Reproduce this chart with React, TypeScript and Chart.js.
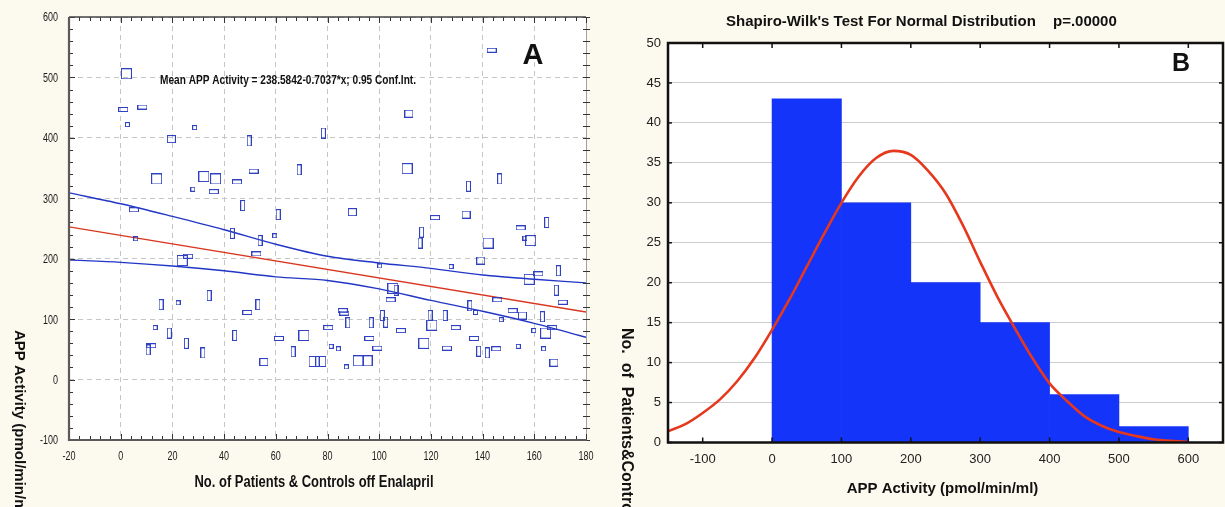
import { useEffect, useRef } from 'react';
import { Chart, registerables } from 'chart.js';

Chart.register(...registerables);

const FONT = '"Liberation Sans", Arial, sans-serif';

// ---------- Panel A: APP activity for each subject ----------
const subjectNo = [
  2.2, 1.0, 8.4, 2.6, 19.6, 28.6, 49.7, 78.4, 13.9, 32.2,
  36.7, 27.9, 36.0, 45.0, 51.4, 69.0, 47.2, 60.9, 5.1, 143.5,
  111.5, 110.8, 134.5, 146.6, 89.6, 121.6, 133.6, 154.7, 164.8, 116.4,
  115.8, 142.1, 158.6, 156.4, 139.3, 127.8, 100.2, 158.0, 161.6, 169.3,
  168.5, 171.0, 105.3, 106.5, 104.4, 145.7, 135.1, 137.3, 85.9, 86.5,
  101.2, 102.5, 119.7, 125.5, 87.9, 96.9, 120.4, 129.6, 147.2, 151.6,
  155.4, 163.1, 166.9, 159.8, 164.4, 80.3, 108.4, 96.2, 117.3, 136.7,
  81.4, 84.2, 99.3, 126.2, 138.5, 141.8, 145.3, 153.8, 163.6, 91.9,
  95.3, 87.3, 167.6, 43.2, 53.9, 59.6, 5.8, 23.8, 26.1, 52.5,
  34.2, 15.6, 22.2, 49.0, 53.1, 13.3, 18.8, 44.1, 61.2, 70.9,
  10.6, 11.8, 25.4, 31.8, 55.4, 66.7, 74.8, 77.4,
];
const appActivity = [
  506, 447, 451, 422, 398, 417, 395, 408, 332, 336,
  332, 315, 311, 327, 345, 347, 288, 273, 281, 545,
  440, 349, 320, 332, 277, 268, 273, 251, 260, 244,
  226, 226, 230, 234, 197, 187, 188, 166, 175, 180,
  148, 128, 151, 148, 132, 132, 122, 111, 114, 110,
  106, 95, 106, 106, 94, 94, 90, 86, 99, 114,
  106, 104, 86, 81, 77, 86, 81, 68, 60, 68,
  55, 51, 52, 52, 47, 44, 51, 55, 51, 31,
  31, 21, 28, 242, 230, 238, 233, 197, 204, 208,
  139, 124, 127, 111, 124, 86, 77, 73, 68, 73,
  49, 56, 60, 44, 29, 46, 30, 30,
];
// marker shape per subject: S large box, s box, t tall, w wide, d small
const markerKind = [
  'S', 'w', 'w', 'd', 's', 'd', 't', 't', 'S', 'S',
  'S', 'd', 'w', 'w', 'w', 't', 't', 't', 'w', 'w',
  's', 'S', 't', 't', 's', 'w', 's', 'w', 't', 't',
  't', 'S', 'S', 'd', 's', 'd', 'd', 'S', 'w', 't',
  't', 'w', 'S', 't', 'w', 'w', 't', 'd', 'w', 'w',
  't', 't', 't', 't', 't', 't', 'S', 'w', 'd', 'w',
  's', 't', 'w', 'd', 'S', 'w', 'w', 'w', 'S', 'w',
  'd', 'd', 'w', 'w', 't', 't', 'w', 'd', 'd', 'S',
  'S', 'd', 's', 't', 't', 'd', 'd', 'S', 'w', 'w',
  't', 't', 'd', 'w', 't', 'd', 't', 't', 'w', 'S',
  't', 'w', 't', 't', 's', 't', 'S', 'S',
];

const regressionIntercept = 238.5842;
const regressionSlope = -0.7037;
const subjectRange = [-20, 180];

const bandX = [-20, 0, 20, 40, 60, 80, 100, 120, 140, 160, 180];
const bandUpper = [309, 291, 270, 248, 224, 204, 193, 184, 173, 166, 160];
const bandLower = [198, 194, 188, 180, 170, 164, 150, 131, 113, 93, 70];

const xTicksA = [-20, 0, 20, 40, 60, 80, 100, 120, 140, 160, 180];
const yTicksA = [-100, 0, 100, 200, 300, 400, 500, 600];

// ---------- Panel B: distribution of APP activity ----------
const binCenters = [50, 150, 250, 350, 450, 550];
const binCounts = [43, 30, 20, 15, 6, 2];
const normalX = [
  -150, -125, -100, -75, -50, -25, 0, 25, 50, 75, 100, 125, 150, 175, 200, 225,
  250, 275, 300, 325, 350, 375, 400, 425, 450, 475, 500, 525, 550, 575, 600,
];
const normalY = [
  1.4, 2.3, 3.7, 5.4, 7.7, 10.6, 14.1, 17.9, 22.0, 26.1, 30.0, 33.3, 35.6, 36.5, 36.0, 34.0,
  31.2, 27.2, 22.6, 18.2, 14.3, 10.6, 7.4, 5.2, 3.3, 2.1, 1.3, 0.8, 0.4, 0.2, 0.1,
];
const xTicksB = [-100, 0, 100, 200, 300, 400, 500, 600];
const yTicksB = [0, 5, 10, 15, 20, 25, 30, 35, 40, 45, 50];

// ---------- drawing helpers ----------
const MARKER_BOX: Record<string, [number, number]> = {
  S: [10, 10],
  s: [8, 7],
  t: [4, 10],
  w: [9, 4],
  d: [4, 4],
};

function markerCanvas(w: number, h: number, color: string) {
  const c = document.createElement('canvas');
  c.width = w + 1;
  c.height = h + 1;
  const g = c.getContext('2d')!;
  g.strokeStyle = color;
  g.lineWidth = 1;
  g.strokeRect(0.5, 0.5, w, h);
  return c;
}

type TextOpts = {
  align?: CanvasTextAlign;
  rotate?: number;
  sx?: number;
  width?: number;
  color?: string;
};

function drawLabel(
  ctx: CanvasRenderingContext2D,
  text: string,
  x: number,
  y: number,
  font: string,
  o: TextOpts = {}
) {
  ctx.save();
  ctx.font = font;
  let sx = o.sx ?? 1;
  if (o.width) sx = o.width / ctx.measureText(text).width;
  ctx.translate(x, y);
  if (o.rotate) ctx.rotate(o.rotate);
  ctx.scale(sx, 1);
  ctx.textAlign = o.align ?? 'center';
  ctx.textBaseline = 'middle';
  ctx.fillStyle = o.color ?? '#111';
  ctx.fillText(text, 0, 0);
  ctx.restore();
}

function seg(ctx: CanvasRenderingContext2D, x1: number, y1: number, x2: number, y2: number) {
  ctx.beginPath();
  ctx.moveTo(x1, y1);
  ctx.lineTo(x2, y2);
  ctx.stroke();
}

const whitePlotArea = {
  id: 'whitePlotArea',
  beforeDraw(chart: any) {
    const { ctx, chartArea: a } = chart;
    ctx.save();
    ctx.fillStyle = '#ffffff';
    ctx.fillRect(a.left, a.top, a.right - a.left, a.bottom - a.top);
    ctx.restore();
  },
};

const panelAFrame = {
  id: 'panelAFrame',
  afterDraw(chart: any) {
    const { ctx, chartArea: a } = chart;
    const x = chart.scales.x;
    const y = chart.scales.y;
    ctx.save();
    ctx.strokeStyle = '#a0a0a0';
    ctx.lineWidth = 1;
    seg(ctx, a.right + 0.5, a.top, a.right + 0.5, a.bottom);

    ctx.strokeStyle = '#333';
    ctx.lineWidth = 1;
    for (let v = -20; v <= 180; v += 4) {
      const px = Math.round(x.getPixelForValue(v)) + 0.5;
      const len = v % 20 === 0 ? 6 : 4;
      seg(ctx, px, a.bottom, px, a.bottom - len);
      seg(ctx, px, a.top, px, a.top + len);
    }
    for (let v = -100; v <= 600; v += 20) {
      const py = Math.round(y.getPixelForValue(v)) + 0.5;
      const len = v % 100 === 0 ? 6 : 4;
      seg(ctx, a.left, py, a.left + len, py);
      seg(ctx, a.right - 3, py, a.right + 4, py);
    }
    ctx.strokeStyle = '#444';
    ctx.lineWidth = 1.5;
    seg(ctx, a.left, a.top, a.right, a.top);
    ctx.strokeStyle = '#5a5a5a';
    ctx.lineWidth = 2.2;
    seg(ctx, a.left, a.top, a.left, a.bottom + 1);
    seg(ctx, a.left - 1, a.bottom, a.right + 1, a.bottom);
    ctx.restore();

    for (const v of yTicksA) {
      drawLabel(ctx, String(v), 58, y.getPixelForValue(v) + 1, `12.5px ${FONT}`, {
        align: 'right',
        sx: 0.72,
        color: '#1a1a1a',
      });
    }
    for (const v of xTicksA) {
      drawLabel(ctx, String(v), x.getPixelForValue(v), 457, `12.5px ${FONT}`, {
        sx: 0.72,
        color: '#1a1a1a',
      });
    }

    drawLabel(ctx, 'No. of Patients & Controls off Enalapril', 314, 483, `bold 16px ${FONT}`, {
      width: 239,
    });
    drawLabel(ctx, 'APP Activity (pmol/min/ml)', 19, 330, `bold 15px ${FONT}`, {
      align: 'left',
      rotate: Math.PI / 2,
    });
    drawLabel(
      ctx,
      `Mean APP Activity = ${regressionIntercept}-${Math.abs(regressionSlope)}*x; 0.95 Conf.Int.`,
      160,
      80,
      `bold 13.5px ${FONT}`,
      { align: 'left', width: 256 }
    );
    drawLabel(ctx, 'A', 533, 56, `bold 29px ${FONT}`);
  },
};

const panelBFrame = {
  id: 'panelBFrame',
  afterDraw(chart: any) {
    const { ctx, chartArea: a } = chart;
    const x = chart.scales.x;
    const y = chart.scales.y;
    ctx.save();
    ctx.strokeStyle = '#111';
    ctx.lineWidth = 1.5;
    for (const v of xTicksB) {
      const px = x.getPixelForValue(v);
      seg(ctx, px, a.bottom, px, a.bottom - 5);
      seg(ctx, px, a.top, px, a.top + 5);
    }
    for (const v of yTicksB) {
      const py = y.getPixelForValue(v);
      seg(ctx, a.left, py, a.left + 4, py);
      seg(ctx, a.right, py, a.right - 4, py);
    }
    ctx.lineWidth = 2.5;
    ctx.strokeRect(a.left, a.top, a.right - a.left, a.bottom - a.top);
    ctx.restore();

    drawLabel(ctx, "Shapiro-Wilk's Test For Normal Distribution", 126, 22, `bold 15px ${FONT}`, {
      align: 'left',
    });
    drawLabel(ctx, 'p=.00000', 453, 22, `bold 15px ${FONT}`, { align: 'left' });
    drawLabel(ctx, 'No.  of  Patients&Controls', 26, 328, `bold 16px ${FONT}`, {
      align: 'left',
      rotate: Math.PI / 2,
    });
    drawLabel(ctx, 'APP Activity (pmol/min/ml)', 342.5, 489, `bold 15px ${FONT}`);
    drawLabel(ctx, 'B', 581, 64, `bold 25px ${FONT}`);
  },
};

function buildPanelA(canvas: HTMLCanvasElement) {
  const markerColor = '#2f40c0';
  const markers: Record<string, HTMLCanvasElement> = {};
  for (const k of Object.keys(MARKER_BOX)) {
    markers[k] = markerCanvas(MARKER_BOX[k][0], MARKER_BOX[k][1], markerColor);
  }
  const points = subjectNo.map((s, i) => ({ x: s, y: appActivity[i] }));
  const meanLine = subjectRange.map((s) => ({
    x: s,
    y: regressionIntercept + regressionSlope * s,
  }));

  return new Chart(canvas, {
    type: 'scatter',
    data: {
      datasets: [
        {
          type: 'scatter',
          data: points,
          pointStyle: markerKind.map((k) => markers[k]) as any,
          pointRadius: 3,
          pointHoverRadius: 3,
          borderColor: markerColor,
          backgroundColor: 'transparent',
        },
        {
          type: 'line',
          data: meanLine,
          borderColor: '#d8361e',
          borderWidth: 1.4,
          pointRadius: 0,
          fill: false,
        },
        {
          type: 'line',
          data: bandX.map((s, i) => ({ x: s, y: bandUpper[i] })),
          borderColor: '#2236c6',
          borderWidth: 1.4,
          pointRadius: 0,
          tension: 0.3,
          fill: false,
        },
        {
          type: 'line',
          data: bandX.map((s, i) => ({ x: s, y: bandLower[i] })),
          borderColor: '#2236c6',
          borderWidth: 1.4,
          pointRadius: 0,
          tension: 0.3,
          fill: false,
        },
      ] as any,
    },
    options: {
      animation: false,
      responsive: false,
      events: [],
      layout: { padding: { top: 17, right: 14, left: 0, bottom: 0 } },
      plugins: { legend: { display: false }, tooltip: { enabled: false } },
      scales: {
        x: {
          type: 'linear',
          min: subjectRange[0],
          max: subjectRange[1],
          ticks: { stepSize: 20, display: false },
          grid: { color: '#c6c6c6', lineWidth: 1, drawTicks: false },
          border: { display: false, dash: [5, 4] },
          afterFit: (s: any) => {
            s.height = 67;
          },
        },
        y: {
          type: 'linear',
          min: -100,
          max: 600,
          ticks: { stepSize: 100, display: false },
          grid: { color: '#c6c6c6', lineWidth: 1, drawTicks: false },
          border: { display: false, dash: [5, 4] },
          afterFit: (s: any) => {
            s.width = 69;
          },
        },
      },
    } as any,
    plugins: [whitePlotArea, panelAFrame],
  });
}

function buildPanelB(canvas: HTMLCanvasElement) {
  return new Chart(canvas, {
    type: 'bar',
    data: {
      datasets: [
        {
          type: 'line',
          data: normalX.map((v, i) => ({ x: v, y: normalY[i] })),
          borderColor: '#e5381c',
          borderWidth: 2.6,
          pointRadius: 0,
          cubicInterpolationMode: 'monotone',
          fill: false,
          order: 0,
        },
        {
          type: 'bar',
          data: binCenters.map((c, i) => ({ x: c, y: binCounts[i] })),
          backgroundColor: '#1434fa',
          borderWidth: 0,
          barPercentage: 1,
          categoryPercentage: 1,
          order: 1,
        },
      ] as any,
    },
    options: {
      animation: false,
      responsive: false,
      events: [],
      layout: { padding: { top: 43, right: 2, left: 0, bottom: 0 } },
      plugins: { legend: { display: false }, tooltip: { enabled: false } },
      scales: {
        x: {
          type: 'linear',
          min: -150,
          max: 650,
          offset: false,
          afterBuildTicks: (s: any) => {
            s.ticks = xTicksB.map((v) => ({ value: v }));
          },
          ticks: {
            font: { family: FONT, size: 13 },
            color: '#222',
            padding: 9,
            maxRotation: 0,
            autoSkip: false,
          },
          grid: { display: false, drawTicks: false, offset: false },
          border: { display: false },
          afterFit: (s: any) => {
            s.height = 64.5;
          },
        },
        y: {
          type: 'linear',
          min: 0,
          max: 50,
          ticks: {
            stepSize: 5,
            font: { family: FONT, size: 13 },
            color: '#222',
            padding: 7,
          },
          grid: { color: '#cdcdcd', lineWidth: 1, drawTicks: false },
          border: { display: false },
          afterFit: (s: any) => {
            s.width = 68;
          },
        },
      },
    } as any,
    plugins: [whitePlotArea, panelBFrame],
  });
}

export default function App() {
  const refA = useRef<HTMLCanvasElement>(null);
  const refB = useRef<HTMLCanvasElement>(null);

  useEffect(() => {
    const chartA = buildPanelA(refA.current!);
    const chartB = buildPanelB(refB.current!);
    return () => {
      chartA.destroy();
      chartB.destroy();
    };
  }, []);

  return (
    <div
      style={{
        position: 'absolute',
        left: 0,
        top: 0,
        width: 1225,
        height: 507,
        background: '#fcf9ee',
        overflow: 'hidden',
      }}
    >
      <canvas
        ref={refA}
        width={600}
        height={507}
        style={{ position: 'absolute', left: 0, top: 0 }}
      />
      <canvas
        ref={refB}
        width={625}
        height={507}
        style={{ position: 'absolute', left: 600, top: 0 }}
      />
    </div>
  );
}
